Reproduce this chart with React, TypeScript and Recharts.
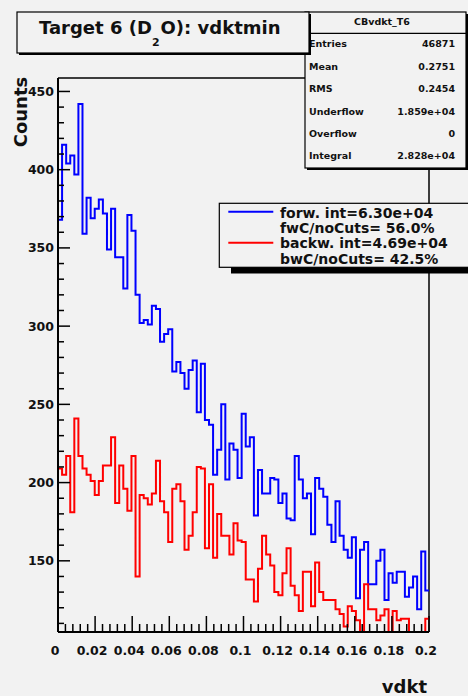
import React from 'react';
import { LineChart, Line, XAxis, YAxis, ReferenceLine } from 'recharts';

// ---- data ----
const BIN_WIDTH = 0.0022; // histogram bin width in vdkt
const X_MIN = 0;
const X_MAX = 0.2;
const Y_MIN = 104.5;
const Y_MAX = 458.6;

const FORW = [
  368, 416, 404, 409, 397, 442, 359, 382, 369, 375,
  381, 372, 349, 375, 344, 344, 324, 371, 361, 320,
  302, 304, 301, 313, 311, 290, 295, 298, 271, 277,
  270, 260, 272, 278, 245, 276, 240, 237, 205, 221,
  250, 202, 225, 221, 203, 244, 223, 229, 179, 208,
  193, 193, 203, 202, 187, 193, 177, 176, 217, 202,
  190, 193, 167, 203, 196, 191, 173, 162, 188, 166,
  157, 152, 165, 126, 157, 162, 135, 135, 150, 157,
  125, 142, 136, 143, 143, 127, 133, 140, 119, 156,
  131,
];

const BACKW = [
  209, 205, 217, 181, 241, 217, 209, 205, 201, 192,
  201, 211, 211, 229, 187, 211, 196, 182, 217, 140,
  192, 190, 186, 193, 214, 188, 181, 162, 196, 199,
  188, 157, 166, 181, 210, 209, 158, 199, 152, 180,
  166, 166, 154, 174, 163, 162, 138, 138, 124, 145,
  166, 154, 147, 130, 128, 142, 158, 134, 128, 118,
  143, 143, 121, 149, 130, 125, 125, 125, 119, 116,
  108, 121, 118, 112, 104.5, 135, 119, 119, 112, 115,
  119, 104.5, 118, 112, 113, 113, 104.5, 104.5, 104.5, 104.5,
  113,
];

const X_TICK_LABELS = ['0', '0.02', '0.04', '0.06', '0.08', '0.1', '0.12', '0.14', '0.16', '0.18', '0.2'];
const Y_TICK_LABELS = ['150', '200', '250', '300', '350', '400', '450'];

const TITLE_MAIN = 'Target 6 (D';
const TITLE_SUB = '2';
const TITLE_REST = 'O): vdktmin';

const STATS_NAME = 'CBvdkt_T6';
const STATS_LABELS = ['Entries', 'Mean', 'RMS', 'Underflow', 'Overflow', 'Integral'];
const STATS_VALUES = ['46871', '0.2751', '0.2454', '1.859e+04', '0', '2.828e+04'];

const LEGEND_FORW = ['forw. int=6.30e+04', 'fwC/noCuts= 56.0%'];
const LEGEND_BACKW = ['backw. int=4.69e+04', 'bwC/noCuts= 42.5%'];

const X_AXIS_TITLE = 'vdkt';
const Y_AXIS_TITLE = 'Counts';

// ---- derived table for recharts ----
const data = FORW.map((f, i) => ({
  x: +(X_MIN + i * BIN_WIDTH).toFixed(5),
  forw: f,
  backw: BACKW[i],
}));
data.push({ x: X_MAX, forw: FORW[FORW.length - 1], backw: BACKW[BACKW.length - 1] });

const xTicks: number[] = [];
for (let i = 0; i <= 50; i++) xTicks.push(+(i * 0.004).toFixed(4));
const yTicks: number[] = [];
for (let v = 110; v <= 450; v += 10) yTicks.push(v);

const FONT = '"DejaVu Sans", sans-serif';
const BG = '#f2f2f2';

const XTick = (props: any) => {
  const { x, y, payload } = props;
  const v = payload.value as number;
  const idx = Math.round(v / 0.02);
  const major = Math.abs(v / 0.02 - idx) < 1e-6;
  return (
    <g>
      <line x1={x} x2={x} y1={y} y2={y - (major ? 16 : 8)} stroke="#000" strokeWidth={1.5} />
      {major && (
        <text x={x - 3} y={y + 22.5} textAnchor="middle" fontFamily={FONT} fontWeight="bold" fontSize={12.5} fill="#111">
          {X_TICK_LABELS[idx]}
        </text>
      )}
    </g>
  );
};

const YTick = (props: any) => {
  const { x, y, payload } = props;
  const v = payload.value as number;
  const major = v % 50 === 0;
  const label = Y_TICK_LABELS.find((t) => Number(t) === v);
  return (
    <g>
      <line x1={x} x2={x + (major ? 12 : 6)} y1={y} y2={y} stroke="#000" strokeWidth={1.5} />
      {major && label && (
        <text x={x - 4} y={y + 4.5} textAnchor="end" fontFamily={FONT} fontWeight="bold" fontSize={12.5} fill="#111">
          {label}
        </text>
      )}
    </g>
  );
};

const Overlay = () => {
  const statsY = [46.8, 69.5, 92.3, 114.5, 136.8, 158.5];
  return (
    <svg width={468} height={696} style={{ position: 'absolute', left: 0, top: 0, pointerEvents: 'none' }}>
      {/* stats box */}
      <rect x={307} y={14} width={161} height={156} fill="#000" />
      <rect x={305} y={12} width={161} height={156} fill={BG} stroke="#000" strokeWidth={1.2} />
      <line x1={305} x2={466} y1={33.3} y2={33.3} stroke="#000" strokeWidth={1.2} />
      <text x={382} y={25} textAnchor="middle" fontFamily={FONT} fontWeight="bold" fontSize={9.5} fill="#111">
        {STATS_NAME}
      </text>
      {STATS_LABELS.map((l, i) => (
        <g key={l}>
          <text x={309} y={statsY[i]} fontFamily={FONT} fontWeight="bold" fontSize={9.5} fill="#111">{l}</text>
          <text x={455} y={statsY[i]} textAnchor="end" fontFamily={FONT} fontWeight="bold" fontSize={9.5} fill="#111">
            {STATS_VALUES[i]}
          </text>
        </g>
      ))}

      {/* title box */}
      <rect x={19} y={14} width={292} height={41} fill="#000" />
      <rect x={17} y={12} width={292} height={41} fill={BG} stroke="#000" strokeWidth={1.2} />
      <text x={39} y={34} fontFamily={FONT} fontWeight="bold" fontSize={18} fill="#111">
        {TITLE_MAIN}
        <tspan dy={12} fontSize={11}>{TITLE_SUB}</tspan>
        <tspan dy={-12} dx={1}>{TITLE_REST}</tspan>
      </text>

      {/* legend box */}
      <rect x={231} y={210} width={300} height={63.5} fill="#000" />
      <rect x={219.3} y={203.3} width={300} height={64} fill={BG} stroke="#000" strokeWidth={1.2} />
      <line x1={228.3} x2={273.3} y1={211.7} y2={211.7} stroke="#0000ff" strokeWidth={2} />
      <line x1={228.3} x2={273.3} y1={242.7} y2={242.7} stroke="#ff0000" strokeWidth={2} />
      {[...LEGEND_FORW, ...LEGEND_BACKW].map((t, i) => (
        <text key={t} x={280} y={[217.7, 233.3, 248.3, 264.3][i]} fontFamily={FONT} fontWeight="bold" fontSize={14} fill="#111">
          {t}
        </text>
      ))}

      {/* axis titles */}
      <text
        x={0}
        y={0}
        transform="translate(27 112) rotate(-90)"
        textAnchor="middle"
        fontFamily={FONT}
        fontWeight="bold"
        fontSize={18}
        fill="#111"
      >
        {Y_AXIS_TITLE}
      </text>
      <text x={427} y={693} textAnchor="end" fontFamily={FONT} fontWeight="bold" fontSize={18} fill="#111">
        {X_AXIS_TITLE}
      </text>
    </svg>
  );
};

export default function App() {
  return (
    <div style={{ position: 'absolute', left: 0, top: 0, width: 468, height: 696, background: BG, overflow: 'hidden' }}>
      <LineChart
        width={468}
        height={696}
        data={data}
        margin={{ top: 78, right: 39, bottom: 34, left: 0 }}
      >
        <XAxis
          dataKey="x"
          type="number"
          domain={[X_MIN, X_MAX]}
          allowDataOverflow
          ticks={xTicks}
          interval={0}
          tick={<XTick />}
          tickLine={false}
          tickSize={0}
          tickMargin={0}
          height={30}
          axisLine={{ stroke: '#000', strokeWidth: 2 }}
        />
        <YAxis
          type="number"
          domain={[Y_MIN, Y_MAX]}
          allowDataOverflow
          ticks={yTicks}
          interval={0}
          tick={<YTick />}
          tickLine={false}
          tickSize={0}
          tickMargin={0}
          width={58}
          axisLine={{ stroke: '#000', strokeWidth: 2 }}
        />
        <ReferenceLine y={Y_MAX} stroke="#000" strokeWidth={1.5} />
        <ReferenceLine x={X_MAX} stroke="#000" strokeWidth={1.5} />
        <Line
          dataKey="forw"
          type="stepAfter"
          stroke="#0000ff"
          strokeWidth={2}
          dot={false}
          isAnimationActive={false}
        />
        <Line
          dataKey="backw"
          type="stepAfter"
          stroke="#ff0000"
          strokeWidth={2}
          dot={false}
          isAnimationActive={false}
        />
      </LineChart>
      <Overlay />
    </div>
  );
}
